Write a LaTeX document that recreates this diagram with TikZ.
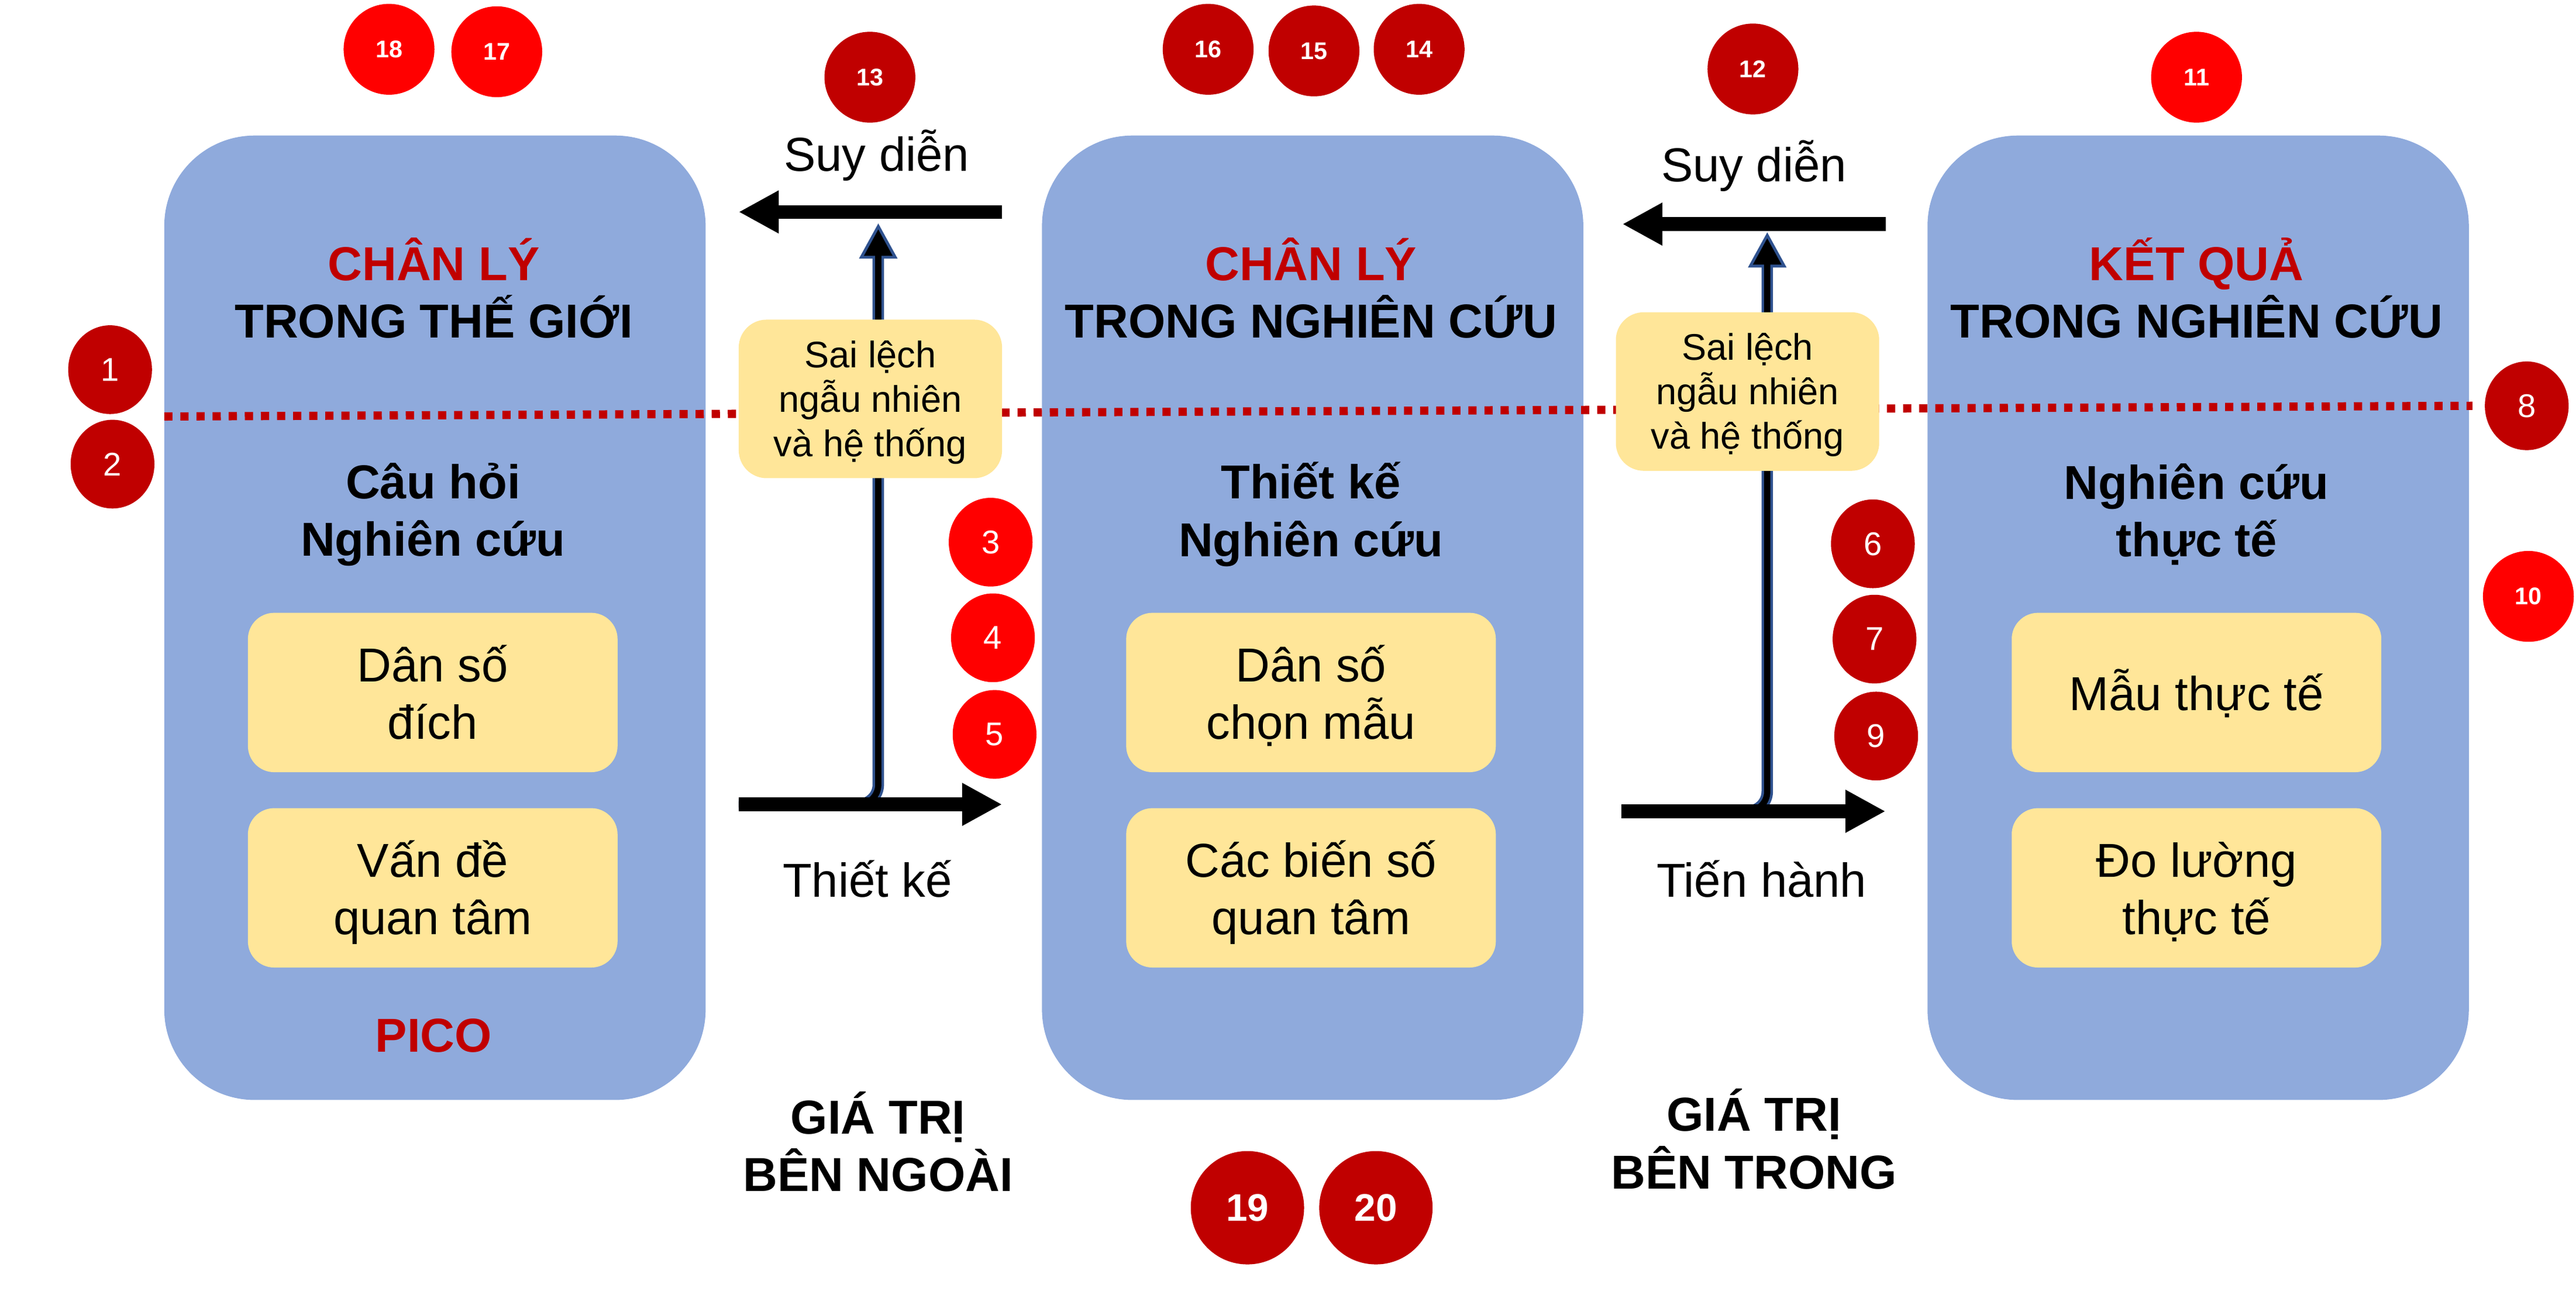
\documentclass[tikz,border=0pt]{standalone}
\usepackage{fontspec}
\setmainfont{Liberation Sans}
\usetikzlibrary{arrows.meta, positioning, shapes.geometric}

\definecolor{boxblue}{HTML}{8FAADC}
\definecolor{boxyellow}{HTML}{FFE699}
\definecolor{titlered}{HTML}{C00000}
\definecolor{darkbadge}{HTML}{C00000}
\definecolor{brightbadge}{HTML}{FF0000}
\definecolor{edgeblue}{HTML}{2F528F}

\newcommand{\mainsize}{\fontsize{29}{35}\selectfont}
\newcommand{\biassize}{\fontsize{22.5}{27}\selectfont}
% fixed line extents, so that text sits in its box as in the slide
\newcommand{\itemtop}{\rule{0pt}{31pt}}
\newcommand{\itembot}{\rule[-9.4pt]{0pt}{9.4pt}}
\newcommand{\biastop}{\rule{0pt}{24pt}}
\newcommand{\biasbot}{\rule[-8pt]{0pt}{8pt}}

\begin{document}
\begin{tikzpicture}[
      x=1pt, y=-1pt,
      stage/.style={fill=boxblue, rounded corners=55pt, minimum width=329.5pt, minimum height=587pt, inner sep=0pt},
      item/.style={fill=boxyellow, rounded corners=16pt, minimum width=225pt, minimum height=97pt, align=center, font=\mainsize},
      biasbox/.style={fill=boxyellow, rounded corners=17pt, minimum width=160.3pt, minimum height=96.5pt, align=center, font=\biassize},
      heading/.style={align=center, font=\mainsize\bfseries},
      arrowtext/.style={font=\mainsize},
      flow/.style={line width=8.3pt, -{Triangle[length=24.4pt, width=24.4pt]}},
      biasedge/.style={line width=7pt, draw=edgeblue, rounded corners=12pt, -{Triangle[length=21.8pt, width=21.8pt]}},
      biascore/.style={line width=3.8pt, draw=black, rounded corners=12pt, shorten >=3.8pt, -{Triangle[length=16.3pt, width=16.3pt]}},
      divider/.style={draw=titlered, line width=5pt, dash pattern=on 5pt off 4.8pt},
      badge/.style={ellipse, fill=#1, text=white, inner sep=0pt, minimum width=51pt, minimum height=54pt, font=\fontsize{20}{24}\selectfont},
      topbadge/.style={circle, fill=#1, text=white, inner sep=0pt, minimum size=55.3pt, font=\fontsize{14.7}{18}\selectfont\bfseries},
      bigbadge/.style={circle, fill=#1, text=white, inner sep=0pt, minimum size=69pt, font=\fontsize{23.4}{28}\selectfont\bfseries}
    ]
    \useasboundingbox (0,0) rectangle (1568,789.7);

    % the three stages
    \node [stage] (world) at (264.75,376) {};
    \node [stage] (design) at (799,376) {};
    \node [stage] (result) at (1338,376) {};

    \node [heading] (tworld) at (264,175.3) {\textcolor{titlered}{CHÂN LÝ}\\TRONG THẾ GIỚI};
    \node [heading] (tdesign) at (798,175.3) {\textcolor{titlered}{CHÂN LÝ}\\TRONG NGHIÊN CỨU};
    \node [heading] (tresult) at (1337,175.3) {\textcolor{titlered}{KẾT QUẢ}\\TRONG NGHIÊN CỨU};

    \node [heading] (qworld) at (263.6,313.3) {Câu hỏi\\Nghiên cứu};
    \node [heading] (qdesign) at (798,313.1) {Thiết kế\\Nghiên cứu};
    \node [heading] (qresult) at (1337,313) {Nghiên cứu\\thực tế};
    \node [heading, text=titlered] (pico) at (264,630.5) {PICO};

    \node [item] (popw) at (263.4,421.5) {\itemtop Dân số\\đích\itembot};
    \node [item, below=21.5pt of popw] (varw) {\itemtop Vấn đề\\quan tâm\itembot};
    \node [item] (popd) at (798,421.5) {\itemtop Dân số\\chọn mẫu\itembot};
    \node [item, below=21.5pt of popd] (vard) {\itemtop Các biến số\\quan tâm\itembot};
    \node [item] (popr) at (1337,421.5) {\itemtop Mẫu thực tế\itembot};
    \node [item, below=21.5pt of popr] (varr) {\itemtop Đo lường\\thực tế\itembot};

    % dotted divider
    \coordinate (divl) at (100,253.5);
    \coordinate (divr) at (1505,247);
    \draw [divider] (divl) -- (divr);

    % world <- design
    \coordinate (inf1s) at (610,129);
    \coordinate (inf1e) at (449.6,129);
    \coordinate (des1s) at (449.6,489.6);
    \coordinate (des1e) at (610,489.6);
    \coordinate (bias1) at (534.6,135.6);
    \draw [biasedge] (des1s) -| (bias1);
    \draw [biascore] (des1s) -| (bias1);
    \node [biasbox] (err1) at (529.8,242.8) {\biastop Sai lệch\\ngẫu nhiên\\và hệ thống\biasbot};
    \draw [flow] (inf1s) -- (inf1e);
    \draw [flow] (des1s) -- (des1e);
    \node [arrowtext] (suy1) at (533.6,94.6) {Suy diễn};
    \node [arrowtext] (thietke) at (528,535) {Thiết kế};
    \node [heading] (extval) at (534.5,695) {GIÁ TRỊ\\BÊN NGOÀI};

    % design <- result
    \coordinate (inf2s) at (1147.7,136.4);
    \coordinate (inf2e) at (987.5,136.4);
    \coordinate (run2s) at (987.1,493.8);
    \coordinate (run2e) at (1147.7,493.8);
    \coordinate (bias2) at (1075.7,141);
    \draw [biasedge] (run2s) -| (bias2);
    \draw [biascore] (run2s) -| (bias2);
    \node [biasbox] (err2) at (1063.7,238.3) {\biastop Sai lệch\\ngẫu nhiên\\và hệ thống\biasbot};
    \draw [flow] (inf2s) -- (inf2e);
    \draw [flow] (run2s) -- (run2e);
    \node [arrowtext] (suy2) at (1067.6,100.9) {Suy diễn};
    \node [arrowtext] (tienhanh) at (1072.3,535) {Tiến hành};
    \node [heading] (intval) at (1067.6,693.3) {GIÁ TRỊ\\BÊN TRONG};

    % numbered badges
    \foreach \n/\x/\y/\col in {1/67/225/darkbadge, 2/68.5/282.5/darkbadge,
        3/603/330/brightbadge, 4/604.4/388.2/brightbadge, 5/605.4/447/brightbadge,
        6/1140/331/darkbadge, 7/1141/389/darkbadge, 9/1142/448/darkbadge, 8/1538/247/darkbadge}
      \node [badge=\col] (n\n) at (\x,\y) {\n};
    \foreach \n/\x/\y/\col in {10/1539/363/brightbadge, 11/1337/47/brightbadge,
        12/1067/42/darkbadge, 13/529.5/47/darkbadge, 14/863.8/30/darkbadge,
        15/799.8/31/darkbadge, 16/735.4/30/darkbadge, 17/302.4/31.5/brightbadge, 18/236.8/30/brightbadge}
      \node [topbadge=\col] (n\n) at (\x,\y) {\n};
    \foreach \n/\x/\y in {19/759.3/735.1, 20/837.5/735.1}
      \node [bigbadge=darkbadge] (n\n) at (\x,\y) {\n};
\end{tikzpicture}
\end{document}
